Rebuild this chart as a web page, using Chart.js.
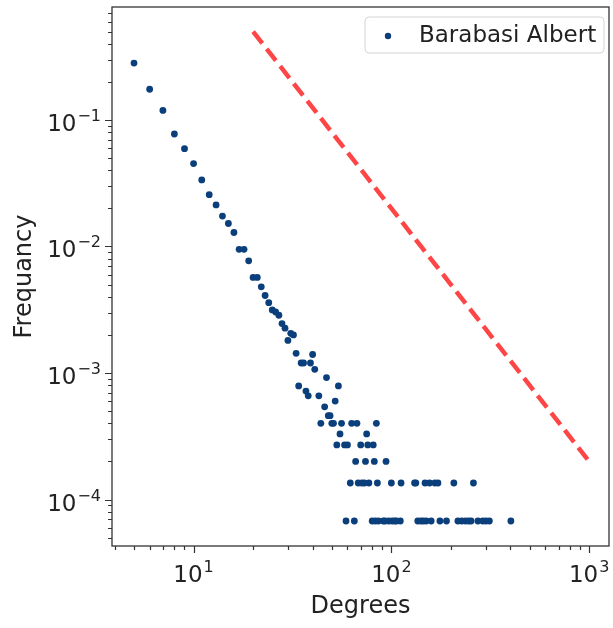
<!DOCTYPE html>
<html lang="en">
<head>
<meta charset="UTF-8">
<title>Barabasi Albert degree distribution</title>
<script src="https://cdn.jsdelivr.net/npm/chart.js"></script>
<style>
  html, body { margin: 0; padding: 0; background: #fff; }
</style>
</head>
<body>
<canvas id="degChart" width="613" height="628"></canvas>

<script>
// degree / frequency pairs
const degrees = [
  5, 6, 7, 8, 9, 10, 11, 12, 13, 14, 15, 16, 17, 18, 19, 20, 21, 22, 23, 24,
  25, 26, 27, 28, 29, 30, 31, 32, 33, 34, 35, 36, 37, 38, 39, 40, 41, 43, 46, 47,
  48, 49, 44, 50, 51, 56, 63, 67, 84, 52, 54, 55, 75,
  53, 58, 60, 70, 76, 81, 66, 74, 82, 94,
  62, 68, 71, 73, 77, 85, 100, 112, 131, 133, 148, 156, 166, 172, 207, 260,
  59, 65, 80, 83, 86, 91, 93, 97, 101, 104, 106, 111, 136, 141, 145, 150, 159,
  176, 190, 217, 227, 237, 246, 253, 274, 290, 301, 313, 402
];
const frequency = [
  0.282, 0.175, 0.119, 0.0775, 0.0593, 0.0452, 0.0336, 0.0257, 0.0213, 0.0174,
  0.0152, 0.0129, 0.0095, 0.0095, 0.0077, 0.0057, 0.0057, 0.0048, 0.0041, 0.0036,
  0.00315, 0.00304, 0.00286, 0.00246, 0.00226, 0.00181, 0.00206, 0.00200, 0.00143, 0.00079,
  0.0012, 0.0012, 0.00072, 0.00066, 0.0012, 0.0014, 0.00107, 0.00066, 0.00054, 0.00092,
  0.00046, 0.00046, 0.0004, 0.0004, 0.0004, 0.0004, 0.0004, 0.0004, 0.0004, 0.0006, 0.00079, 0.00033, 0.00033,
  0.00027, 0.00027, 0.00027, 0.00027, 0.00027, 0.00027, 0.0002, 0.0002, 0.0002, 0.0002,
  0.000135, 0.000135, 0.000135, 0.000135, 0.000135, 0.000135, 0.000135, 0.000135, 0.000135, 0.000135,
  0.000135, 0.000135, 0.000135, 0.000135, 0.000135, 0.000135,
  0.0000676, 0.0000676, 0.0000676, 0.0000676, 0.0000676, 0.0000676, 0.0000676, 0.0000676, 0.0000676,
  0.0000676, 0.0000676, 0.0000676, 0.0000676, 0.0000676, 0.0000676, 0.0000676, 0.0000676,
  0.0000676, 0.0000676, 0.0000676, 0.0000676, 0.0000676, 0.0000676, 0.0000676, 0.0000676,
  0.0000676, 0.0000676, 0.0000676, 0.0000676
];
// red dashed reference line (~ x^-2)
const refLineX = [20, 1000];
const refLineY = [0.5, 0.0002];

// tick labels
const xMajor = [10, 100, 1000];
const xMajorExp = ['1', '2', '3'];
const yMajor = [0.1, 0.01, 0.001, 0.0001];
const yMajorExp = ['\u22121', '\u22122', '\u22123', '\u22124'];

const seriesName = 'Barabasi Albert';
const navy = '#0b3f7c';
const FONT = "'DejaVu Sans', sans-serif";

// minor tick values for a log range
function minorTicks(min, max) {
  const out = [];
  for (let e = Math.floor(Math.log10(min)); e <= Math.ceil(Math.log10(max)); e++) {
    for (let m = 2; m <= 9; m++) {
      const v = m * Math.pow(10, e);
      if (v >= min && v <= max) out.push(v);
    }
  }
  return out;
}

function drawPow(ctx, x, y, exp, align) {
  ctx.font = '23px ' + FONT;
  const w10 = ctx.measureText('10').width;
  ctx.font = '16px ' + FONT;
  const wExp = ctx.measureText(exp).width;
  const total = w10 + wExp + 1;
  let x0 = align === 'right' ? x - total : x - total / 2;
  ctx.textAlign = 'left';
  ctx.textBaseline = 'alphabetic';
  ctx.font = '23px ' + FONT;
  ctx.fillText('10', x0, y);
  ctx.font = '16px ' + FONT;
  ctx.fillText(exp, x0 + w10 + 1, y - 10);
}

const axesPlugin = {
  id: 'mplAxes',
  afterDraw(chart) {
    const {ctx, chartArea: a, scales} = chart;
    const xs = scales.x, ys = scales.y;
    ctx.save();
    ctx.strokeStyle = '#333';
    ctx.fillStyle = '#222';
    ctx.lineWidth = 1.3;
    ctx.strokeRect(a.left, a.top, a.right - a.left, a.bottom - a.top);

    ctx.lineWidth = 1.2;
    ctx.beginPath();
    xMajor.forEach(v => {
      const px = Math.round(xs.getPixelForValue(v)) + 0.5;
      ctx.moveTo(px, a.bottom); ctx.lineTo(px, a.bottom + 7);
    });
    minorTicks(xs.min, xs.max).forEach(v => {
      const px = Math.round(xs.getPixelForValue(v)) + 0.5;
      ctx.moveTo(px, a.bottom); ctx.lineTo(px, a.bottom + 4);
    });
    yMajor.forEach(v => {
      const py = Math.round(ys.getPixelForValue(v)) + 0.5;
      ctx.moveTo(a.left, py); ctx.lineTo(a.left - 7, py);
    });
    minorTicks(ys.min, ys.max).forEach(v => {
      const py = Math.round(ys.getPixelForValue(v)) + 0.5;
      ctx.moveTo(a.left, py); ctx.lineTo(a.left - 4, py);
    });
    ctx.stroke();

    xMajor.forEach((v, i) => drawPow(ctx, xs.getPixelForValue(v), a.bottom + 36, xMajorExp[i], 'center'));
    yMajor.forEach((v, i) => drawPow(ctx, a.left - 11, ys.getPixelForValue(v) + 11, yMajorExp[i], 'right'));

    // legend box in the upper right corner
    const lw = 239, lh = 36;
    const lx = a.right - 5 - lw, ly = a.top + 10;
    ctx.beginPath();
    ctx.roundRect(lx, ly, lw, lh, 4);
    ctx.fillStyle = 'rgba(255,255,255,0.85)';
    ctx.fill();
    ctx.strokeStyle = '#d4d4d4';
    ctx.lineWidth = 1;
    ctx.stroke();
    ctx.fillStyle = navy;
    ctx.beginPath();
    ctx.arc(lx + 23, ly + lh / 2 + 1, 3.2, 0, Math.PI * 2);
    ctx.fill();
    ctx.fillStyle = '#222';
    ctx.font = '23px ' + FONT;
    ctx.textAlign = 'left';
    ctx.textBaseline = 'middle';
    ctx.fillText(seriesName, lx + 54, ly + lh / 2 + 1);
    ctx.restore();
  }
};

const ctx = document.getElementById('degChart').getContext('2d');
new Chart(ctx, {
  type: 'scatter',
  data: {
    datasets: [
      {
        label: seriesName,
        data: degrees.map((d, i) => ({x: d, y: frequency[i]})),
        backgroundColor: navy,
        borderWidth: 0,
        pointRadius: 3.4,
        order: 2
      },
      {
        type: 'line',
        label: 'reference',
        data: refLineX.map((d, i) => ({x: d, y: refLineY[i]})),
        borderColor: '#ff4646',
        borderWidth: 4.5,
        borderDash: [15, 7],
        pointRadius: 0,
        fill: false,
        order: 1
      }
    ]
  },
  options: {
    responsive: false,
    animation: false,
    devicePixelRatio: 1,
    layout: { padding: { top: 7, right: 1, left: 0, bottom: 0 } },
    plugins: { legend: { display: false }, tooltip: { enabled: false } },
    scales: {
      x: {
        type: 'logarithmic',
        min: 3.87,
        max: 1260,
        ticks: { display: false },
        grid: { display: false },
        border: { display: false },
        title: {
          display: true,
          text: 'Degrees',
          color: '#222',
          font: { family: FONT, size: 24 },
          padding: { top: 0, bottom: 7 }
        },
        afterFit(s) { s.height = 82; }
      },
      y: {
        type: 'logarithmic',
        min: 4.29e-5,
        max: 0.782,
        ticks: { display: false },
        grid: { display: false },
        border: { display: false },
        title: {
          display: true,
          text: 'Frequancy',
          color: '#222',
          font: { family: FONT, size: 24 },
          padding: { top: 10, bottom: 0 }
        },
        afterFit(s) { s.width = 112; }
      }
    }
  },
  plugins: [axesPlugin]
});
</script>
</body>
</html>
